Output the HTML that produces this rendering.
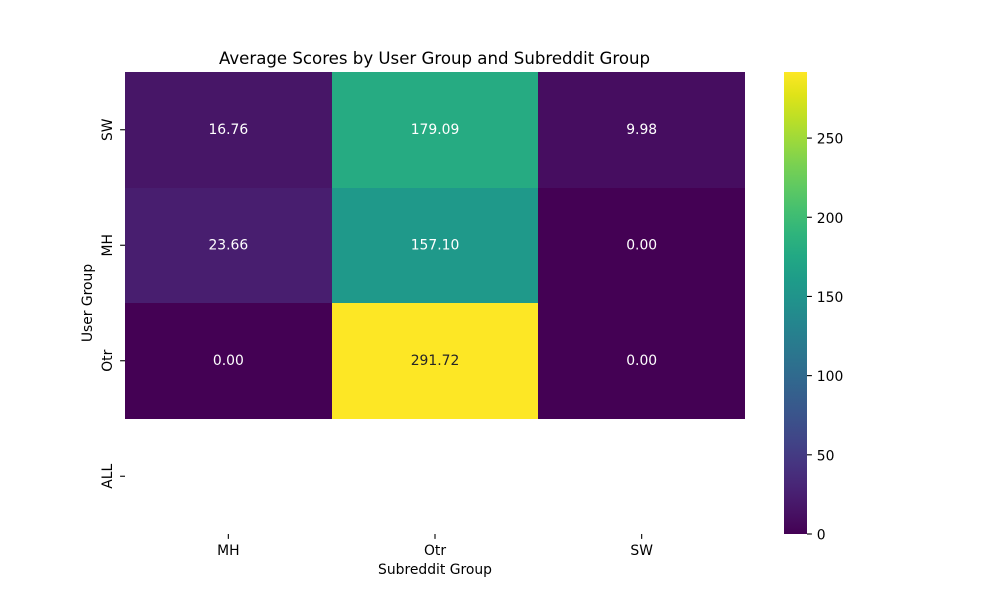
<!DOCTYPE html>
<html>
<head>
<meta charset="utf-8">
<title>Average Scores by User Group and Subreddit Group</title>
<style>
html,body{margin:0;padding:0;background:#fff;}
svg{display:block;}
text{font-family:"DejaVu Sans","Liberation Sans",sans-serif;fill:#000;}
</style>
</head>
<body>
<svg id="chart" width="1000" height="600" viewBox="0 0 1000 600" xmlns="http://www.w3.org/2000/svg">
<defs>
<linearGradient id="viridis-gradient" x1="0" y1="1" x2="0" y2="0"></linearGradient>
</defs>
<text x="434.5" y="64" text-anchor="middle" font-size="16.6">Average Scores by User Group and Subreddit Group</text>
<text x="435" y="574" text-anchor="middle" font-size="13.89">Subreddit Group</text>
<text transform="translate(92,303) rotate(-90)" text-anchor="middle" font-size="13.89">User Group</text>
<g id="cells"></g>
<g id="annotations"></g>
<g id="x-axis"></g>
<g id="y-axis"></g>
<rect id="colorbar" x="784" y="72" width="23" height="462" fill="url(#viridis-gradient)"></rect>
<g id="colorbar-axis"></g>
</svg>
<script>
const subredditGroups = ['MH', 'Otr', 'SW'];
const userGroups = ['SW', 'MH', 'Otr', 'ALL'];
const scoresSW = [16.76, 179.09, 9.98];
const scoresMH = [23.66, 157.10, 0.00];
const scoresOtr = [0.00, 291.72, 0.00];
const scoresALL = [null, null, null];
const colorbarTicks = [0, 50, 100, 150, 200, 250];

const rowsData = [scoresSW, scoresMH, scoresOtr, scoresALL];
const plot = {left: 125, right: 745, top: 72, bottom: 534};
const barRight = 807;
const NS = 'http://www.w3.org/2000/svg';
const viridis = ['#440154', '#471365', '#482475', '#463480', '#414487', '#3b528b', '#355f8d', '#2f6c8e', '#2a788e', '#25848e', '#21918c', '#1e9c89', '#22a884', '#2fb47c', '#44bf70', '#5ec962', '#7ad151', '#9bd93c', '#bddf26', '#dfe318', '#fde725'];

const finite = rowsData.flat().filter(v => v !== null);
const vmin = Math.min(0, ...finite);
const vmax = Math.max(...finite);

function make(tag, attrs, parent, text) {
  const el = document.createElementNS(NS, tag);
  for (const k in attrs) el.setAttribute(k, attrs[k]);
  if (text !== undefined) el.textContent = text;
  parent.appendChild(el);
  return el;
}
function rgbOf(hex) {
  return [1, 3, 5].map(i => parseInt(hex.substr(i, 2), 16));
}
function colorRgb(v) {
  const t = Math.max(0, Math.min(1, (v - vmin) / (vmax - vmin))) * (viridis.length - 1);
  const i = Math.min(Math.floor(t), viridis.length - 2);
  const a = rgbOf(viridis[i]), b = rgbOf(viridis[i + 1]);
  return a.map((c, k) => Math.round(c + (b[k] - c) * (t - i)));
}
function luminance(rgb) {
  const c = rgb.map(x => {
    x = x / 255;
    return x <= 0.03928 ? x / 12.92 : Math.pow((x + 0.055) / 1.055, 2.4);
  });
  return 0.2126 * c[0] + 0.7152 * c[1] + 0.0722 * c[2];
}
const xBand = i => plot.left + (plot.right - plot.left) * i / subredditGroups.length;
const yBand = i => plot.top + (plot.bottom - plot.top) * i / userGroups.length;
const barY = v => plot.bottom - (plot.bottom - plot.top) * (v - vmin) / (vmax - vmin);

const grad = document.getElementById('viridis-gradient');
viridis.forEach((c, i) => {
  make('stop', {offset: i / (viridis.length - 1), 'stop-color': c}, grad);
});

const cellsG = document.getElementById('cells');
const annG = document.getElementById('annotations');
rowsData.forEach((row, r) => {
  row.forEach((v, c) => {
    if (v === null) return;
    const rgb = colorRgb(v);
    const x0 = Math.round(xBand(c)), x1 = Math.round(xBand(c + 1));
    const y0 = Math.round(yBand(r)), y1 = Math.round(yBand(r + 1));
    const cell = make('rect', {
      x: x0, y: y0,
      width: x1 - x0, height: y1 - y0,
      fill: 'rgb(' + rgb.join(',') + ')', 'shape-rendering': 'crispEdges'
    }, cellsG);
    
    
    const label = make('text', {
      x: (xBand(c) + xBand(c + 1)) / 2, y: (yBand(r) + yBand(r + 1)) / 2 + 4,
      'text-anchor': 'middle', 'font-size': 13.89,
      style: 'fill:' + (luminance(rgb) > 0.408 ? '#262626' : '#ffffff')
    }, annG, v.toFixed(2));
    
    
  });
});

const xAxis = document.getElementById('x-axis');
subredditGroups.forEach((name, i) => {
  const x = (xBand(i) + xBand(i + 1)) / 2;
  const tick = make('line', {x1: x, x2: x, y1: plot.bottom, y2: plot.bottom + 4.9, stroke: '#000', 'stroke-width': 1.1}, xAxis);
  
  
  const label = make('text', {x: x, y: 555, 'text-anchor': 'middle', 'font-size': 13.89}, xAxis, name);
  
  
});

const yAxis = document.getElementById('y-axis');
userGroups.forEach((name, i) => {
  const y = (yBand(i) + yBand(i + 1)) / 2;
  const tick = make('line', {x1: plot.left - 4.9, x2: plot.left, y1: y, y2: y, stroke: '#000', 'stroke-width': 1.1}, yAxis);
  
  
  const label = make('text', {transform: 'translate(112,' + y + ') rotate(-90)', 'text-anchor': 'middle', 'font-size': 13.89}, yAxis, name);
  
  
});

const cbAxis = document.getElementById('colorbar-axis');
colorbarTicks.forEach(v => {
  const y = barY(v);
  const tick = make('line', {x1: barRight, x2: barRight + 4.9, y1: y, y2: y, stroke: '#000', 'stroke-width': 1.1}, cbAxis);
  
  
  const label = make('text', {x: barRight + 9.8, y: y + 5.5, 'font-size': 13.89}, cbAxis, String(v));
  
  
});
</script>
</body>
</html>
